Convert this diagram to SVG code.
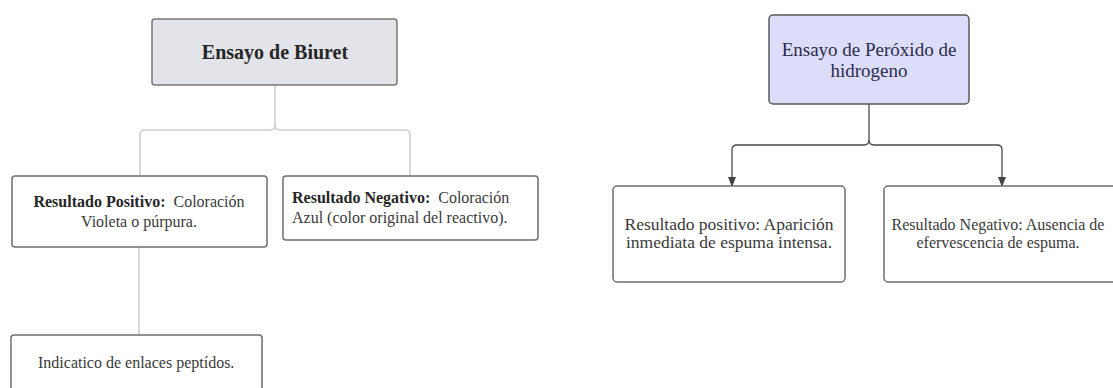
<svg xmlns="http://www.w3.org/2000/svg" width="1113" height="388" viewBox="0 0 1113 388">
  <defs>
    <marker id="arrow" markerWidth="10" markerHeight="10" refX="9" refY="5" orient="auto" markerUnits="userSpaceOnUse">
      <path d="M0,1 L10,5 L0,9 Z" fill="#444"/>
    </marker>
  </defs>
  <style>
    .t { font-family: "Liberation Serif", "DejaVu Serif", serif; }
    .body { font-size: 16px; fill: #3a3a3a; }
    .rbody { font-size: 17.5px; fill: #3a3a3a; }
    .b { font-weight: bold; fill: #262626; }
    .box { fill: #ffffff; stroke: #6e6e6e; stroke-width: 1.5; }
    .lconn { fill: none; stroke: #cfcfcf; stroke-width: 1.6; }
    .rconn { fill: none; stroke: #4a4a4a; stroke-width: 1.3; }
  </style>
  <rect width="1113" height="388" fill="#ffffff"/>

  <g id="connectors">
    <path class="lconn" d="M275,85 V125 Q275,130 270,130 H145 Q140,130 140,135 V176"/>
    <path class="lconn" d="M275,125 Q275,130 280,130 H405 Q410,130 410,135 V176"/>
    <path class="lconn" d="M139,247 V335"/>
    <path class="rconn" d="M869,104 V140 Q869,145 864,145 H737 Q732,145 732,150 V186" marker-end="url(#arrow)"/>
    <path class="rconn" d="M869,140 Q869,145 874,145 H997 Q1002,145 1002,150 V186" marker-end="url(#arrow)"/>
  </g>

  <g id="biuret">
    <rect x="152" y="19" width="245" height="66" rx="3" fill="#e2e4e9" stroke="#787878" stroke-width="1.5"/>
    <text class="t b" x="275" y="59" font-size="20" text-anchor="middle">Ensayo de Biuret</text>
  </g>

  <g id="biuret-positivo">
    <rect class="box" x="12" y="176" width="255" height="71" rx="3"/>
    <text class="t body" x="139" y="207" text-anchor="middle"><tspan class="b">Resultado Positivo:</tspan> &#160;Coloración</text>
    <text class="t body" x="139" y="227" text-anchor="middle">Violeta o púrpura.</text>
  </g>

  <g id="biuret-negativo">
    <rect class="box" x="283" y="176" width="255" height="64" rx="3"/>
    <text class="t body" x="292" y="203"><tspan class="b">Resultado Negativo:</tspan> &#160;Coloración</text>
    <text class="t body" x="292" y="223">Azul (color original del reactivo).</text>
  </g>

  <g id="biuret-indicatico">
    <rect class="box" x="11" y="335" width="251" height="70" rx="3"/>
    <text class="t body" x="38" y="368">Indicatico de enlaces peptídos.</text>
  </g>

  <g id="peroxido">
    <rect x="769" y="15" width="200" height="89" rx="4" fill="#dcdcfb" stroke="#5a5a5a" stroke-width="1.5"/>
    <text class="t" x="869" y="56" font-size="19" fill="#2c2c4a" text-anchor="middle">Ensayo de Peróxido de</text>
    <text class="t" x="869" y="77" font-size="19" fill="#2c2c4a" text-anchor="middle">hidrogeno</text>
  </g>

  <g id="peroxido-positivo">
    <rect class="box" x="613" y="186" width="232" height="96" rx="4"/>
    <text class="t rbody" x="729" y="230" text-anchor="middle">Resultado positivo: Aparición</text>
    <text class="t rbody" x="729" y="248" text-anchor="middle">inmediata de espuma intensa.</text>
  </g>

  <g id="peroxido-negativo">
    <rect class="box" x="884" y="186" width="240" height="96" rx="4"/>
    <text class="t" x="998" y="230" font-size="16" fill="#3a3a3a" text-anchor="middle">Resultado Negativo: Ausencia de</text>
    <text class="t" x="998" y="248" font-size="16" fill="#3a3a3a" text-anchor="middle">efervescencia de espuma.</text>
  </g>
</svg>
